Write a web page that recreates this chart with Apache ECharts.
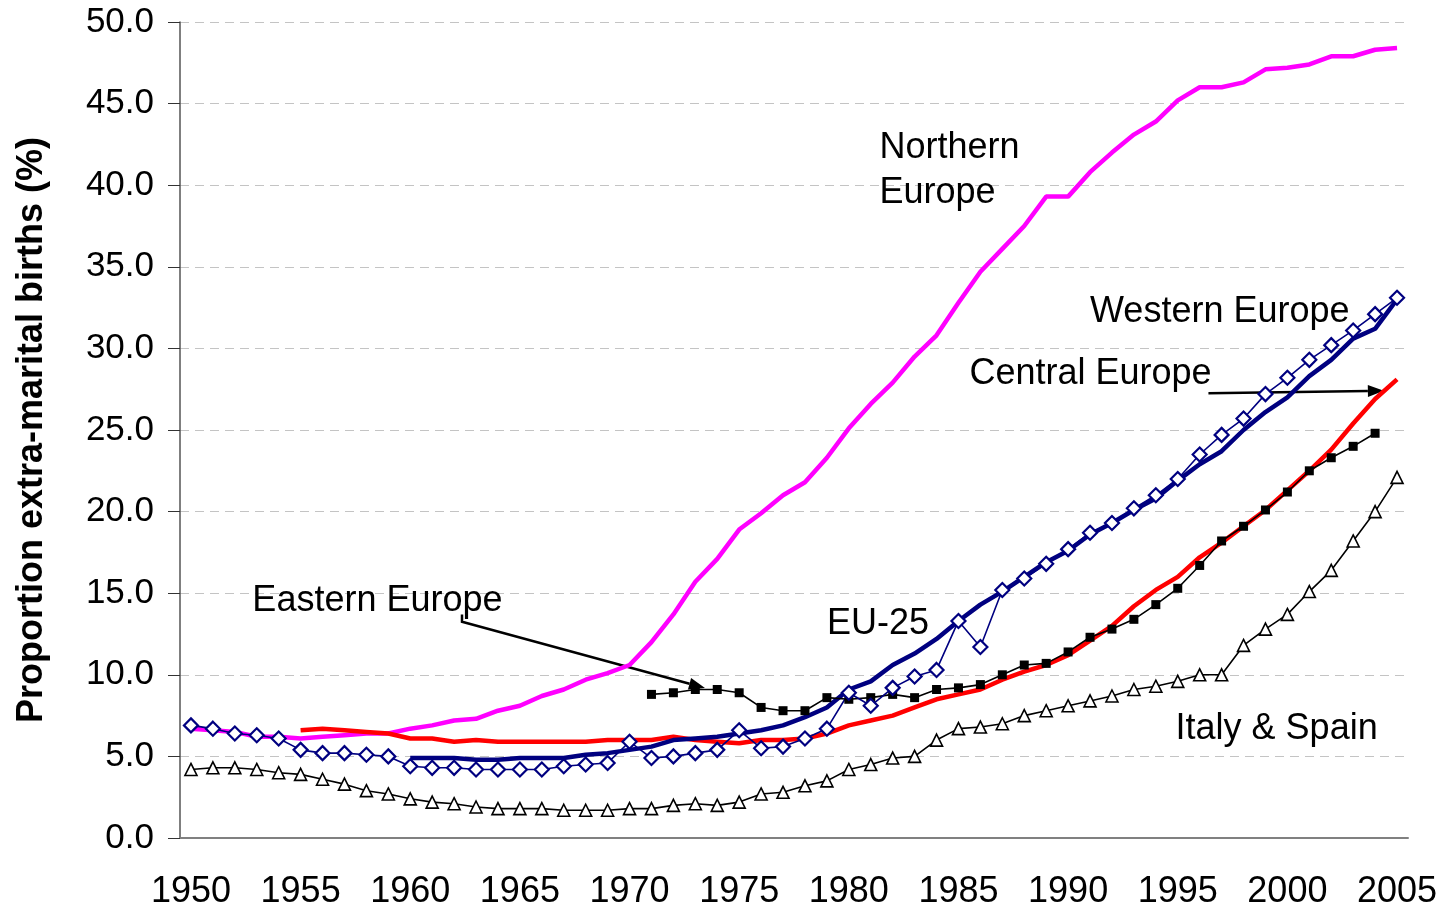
<!DOCTYPE html>
<html>
<head>
<meta charset="utf-8">
<title>Extra-marital births in Europe</title>
<script src="https://cdn.jsdelivr.net/npm/echarts@6/dist/echarts.min.js"></script>
<style>
  html, body { margin: 0; padding: 0; background: #fff; }
  #main { width: 1450px; height: 910px; }
</style>
</head>
<body>
<div id="main"></div>
<script>
// categories
var years = ['1950','1951','1952','1953','1954','1955','1956','1957','1958','1959',
  '1960','1961','1962','1963','1964','1965','1966','1967','1968','1969',
  '1970','1971','1972','1973','1974','1975','1976','1977','1978','1979',
  '1980','1981','1982','1983','1984','1985','1986','1987','1988','1989',
  '1990','1991','1992','1993','1994','1995','1996','1997','1998','1999',
  '2000','2001','2002','2003','2004','2005'];

// series values (%)
var northern = [6.7, 6.6, 6.5, 6.2, 6.2, 6.1, 6.2, 6.3, 6.4, 6.4,
  6.7, 6.9, 7.2, 7.3, 7.8, 8.1, 8.7, 9.1, 9.7, 10.1,
  10.6, 12.0, 13.7, 15.7, 17.1, 18.9, 19.9, 21.0, 21.8, 23.3,
  25.1, 26.6, 27.9, 29.5, 30.8, 32.8, 34.7, 36.1, 37.5, 39.3,
  39.3, 40.8, 42.0, 43.1, 43.9, 45.2, 46.0, 46.0, 46.3, 47.1,
  47.2, 47.4, 47.9, 47.9, 48.3, 48.4];

var western = [6.9, 6.7, 6.4, 6.3, 6.1, 5.4, 5.2, 5.2, 5.1, 5.0,
  4.4, 4.3, 4.3, 4.2, 4.2, 4.2, 4.2, 4.4, 4.5, 4.6,
  5.9, 4.9, 5.0, 5.2, 5.4, 6.6, 5.5, 5.6, 6.1, 6.7,
  8.9, 8.1, 9.2, 9.9, 10.3, 13.3, 11.7, 15.2, 15.9, 16.8,
  17.7, 18.7, 19.3, 20.2, 21.0, 22.0, 23.5, 24.7, 25.7, 27.2,
  28.2, 29.3, 30.2, 31.1, 32.1, 33.1];

var eu25 = [null, null, null, null, null, null, null, null, null, null,
  4.9, 4.9, 4.9, 4.8, 4.8, 4.9, 4.9, 4.9, 5.1, 5.2,
  5.4, 5.6, 6.0, 6.1, 6.2, 6.4, 6.6, 6.9, 7.4, 8.0,
  9.1, 9.6, 10.6, 11.3, 12.2, 13.3, 14.3, 15.1, 16.0, 16.9,
  17.6, 18.6, 19.3, 20.1, 20.8, 21.9, 22.9, 23.7, 25.0, 26.1,
  27.0, 28.3, 29.3, 30.6, 31.2, 33.0];

var central = [null, null, null, null, null, 6.6, 6.7, 6.6, 6.5, 6.4,
  6.1, 6.1, 5.9, 6.0, 5.9, 5.9, 5.9, 5.9, 5.9, 6.0,
  6.0, 6.0, 6.2, 6.0, 5.9, 5.8, 6.0, 6.0, 6.1, 6.4,
  6.9, 7.2, 7.5, 8.0, 8.5, 8.8, 9.1, 9.7, 10.2, 10.6,
  11.2, 12.1, 13.0, 14.2, 15.2, 16.0, 17.2, 18.1, 19.1, 20.1,
  21.3, 22.5, 23.8, 25.4, 26.9, 28.1];

var eastern = [null, null, null, null, null, null, null, null, null, null,
  null, null, null, null, null, null, null, null, null, null,
  null, 8.8, 8.9, 9.1, 9.1, 8.9, 8.0, 7.8, 7.8, 8.6,
  8.5, 8.6, 8.8, 8.6, 9.1, 9.2, 9.4, 10.0, 10.6, 10.7,
  11.4, 12.3, 12.8, 13.4, 14.3, 15.3, 16.7, 18.2, 19.1, 20.1,
  21.2, 22.5, 23.3, 24.0, 24.8, null];

var italySpain = [4.2, 4.3, 4.3, 4.2, 4.0, 3.9, 3.6, 3.3, 2.9, 2.7,
  2.4, 2.2, 2.1, 1.9, 1.8, 1.8, 1.8, 1.7, 1.7, 1.7,
  1.8, 1.8, 2.0, 2.1, 2.0, 2.2, 2.7, 2.8, 3.2, 3.5,
  4.2, 4.5, 4.9, 5.0, 6.0, 6.7, 6.8, 7.0, 7.5, 7.8,
  8.1, 8.4, 8.7, 9.1, 9.3, 9.6, 10.0, 10.0, 11.8, 12.8,
  13.7, 15.1, 16.4, 18.2, 20.0, 22.1];

// annotations, in (year, value) units
var notes = [
  { text: 'Northern', at: [1981.4, 42.3] },
  { text: 'Europe', at: [1981.4, 39.5] },
  { text: 'Western Europe', at: [1991.0, 32.2] },
  { text: 'Central Europe', at: [1985.5, 28.4] },
  { text: 'Eastern Europe', at: [1952.8, 14.5] },
  { text: 'EU-25', at: [1979.0, 13.1] },
  { text: 'Italy & Spain', at: [1994.9, 6.7] }
];
var arrows = [
  [[1962.36, 13.7], [1962.36, 13.25], [1973.44, 9.19]],
  [[1996.4, 27.25], [2004.4, 27.4]]
];

var FONT = '"Liberation Sans", Arial, sans-serif';
var chart = echarts.init(document.getElementById('main'));

function plain(name, data, color, width) {
  return {
    name: name, type: 'line', data: data,
    symbol: 'none', connectNulls: false,
    lineStyle: { color: color, width: width },
    itemStyle: { color: color }
  };
}
function marked(name, data, symbol, size, fill, stroke, bw) {
  return {
    name: name, type: 'line', data: data,
    symbol: symbol, symbolSize: size, showSymbol: true,
    lineStyle: { color: stroke, width: 1.6 },
    itemStyle: { color: fill, borderColor: stroke, borderWidth: bw }
  };
}

chart.setOption({
  animation: false,
  backgroundColor: '#fff',
  grid: { left: 180, right: 42, top: 22, bottom: 72 },
  xAxis: {
    type: 'category',
    data: years,
    boundaryGap: true,
    axisLine: { lineStyle: { color: '#808080', width: 2 } },
    axisTick: { interval: 0, length: 12, lineStyle: { color: '#000' } },
    axisLabel: { interval: 4, color: '#000', fontSize: 36, fontFamily: FONT, margin: 36 },
    splitLine: { show: false }
  },
  yAxis: {
    type: 'value',
    min: 0, max: 50, interval: 5,
    name: 'Proportion extra-marital births (%)',
    nameLocation: 'middle',
    nameGap: 130,
    nameTextStyle: { color: '#000', fontSize: 36, fontWeight: 'bold', fontFamily: FONT },
    axisLine: { show: true, lineStyle: { color: '#555', width: 1.5 } },
    axisTick: { show: true, length: 12, lineStyle: { color: '#333' } },
    axisLabel: {
      color: '#000', fontSize: 35, fontFamily: FONT, margin: 26,
      formatter: function (v) { return v.toFixed(1); }
    },
    splitLine: { lineStyle: { color: '#c4c4c4', type: [9, 6], width: 1.2 } }
  },
  series: [
    plain('Northern Europe', northern, '#ff00ff', 4.5),
    plain('Central Europe', central, '#ff0000', 4.5),
    plain('EU-25', eu25, '#000080', 4.5),
    marked('Eastern Europe', eastern, 'rect', 9, '#000', '#000', 0),
    marked('Italy & Spain', italySpain, 'triangle', 12, '#fff', '#000', 1.6),
    marked('Western Europe', western, 'diamond', 14, '#fff', '#000080', 2.2)
  ]
});

// data units -> pixels (years may be fractional)
function toPx(p) {
  var i = p[0] - 1950, i0 = Math.floor(i);
  var a = chart.convertToPixel({ gridIndex: 0 }, [i0, p[1]]);
  var b = chart.convertToPixel({ gridIndex: 0 }, [i0 + 1, p[1]]);
  return [a[0] + (b[0] - a[0]) * (i - i0), a[1]];
}

var graphics = [];
notes.forEach(function (n) {
  var p = toPx(n.at);
  graphics.push({
    type: 'text', silent: true,
    style: {
      text: n.text, x: p[0], y: p[1], fill: '#000',
      font: '36px ' + FONT, align: 'left', verticalAlign: 'middle',
      textAlign: 'left', textVerticalAlign: 'middle'
    }
  });
});
arrows.forEach(function (a) {
  var pts = a.map(toPx);
  var n = pts.length, tip = pts[n - 1], prev = pts[n - 2];
  var dx = tip[0] - prev[0], dy = tip[1] - prev[1];
  var len = Math.sqrt(dx * dx + dy * dy), ux = dx / len, uy = dy / len;
  var hl = 16, hw = 6;
  var base = [tip[0] - ux * hl, tip[1] - uy * hl];
  pts[n - 1] = base;
  graphics.push({
    type: 'polyline', silent: true,
    shape: { points: pts },
    style: { stroke: '#000', lineWidth: 2.5, fill: null }
  });
  graphics.push({
    type: 'polygon', silent: true,
    shape: { points: [tip, [base[0] - uy * hw, base[1] + ux * hw], [base[0] + uy * hw, base[1] - ux * hw]] },
    style: { fill: '#000' }
  });
});
chart.setOption({ graphic: graphics });
</script>
</body>
</html>
